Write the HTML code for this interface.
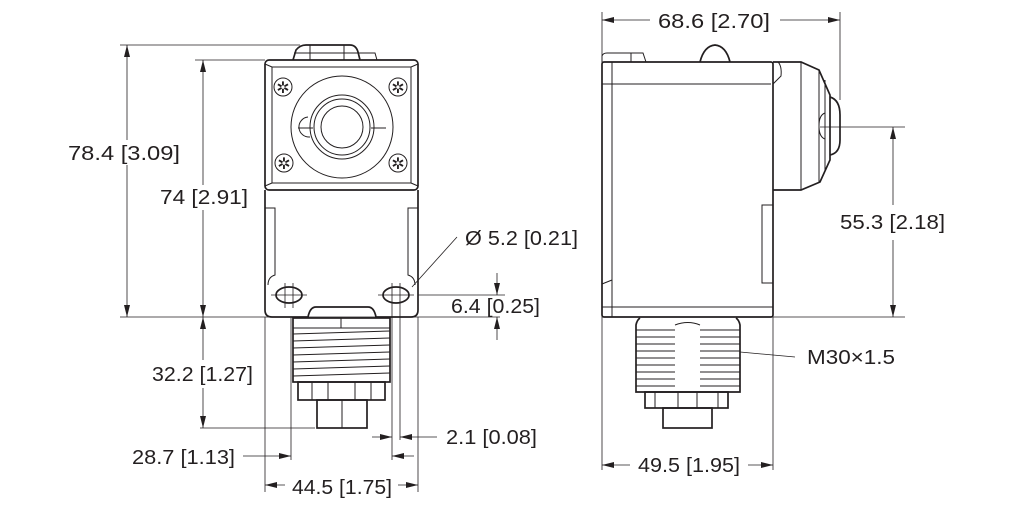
<!DOCTYPE html>
<html><head><meta charset="utf-8"><style>
body{margin:0;background:#fff}
svg{display:block}
text{font-family:"Liberation Sans",sans-serif;font-size:20px;fill:#231f20}
.t{stroke:#231f20;stroke-width:0.8;fill:none}
.b{stroke:#231f20;stroke-width:1.7;fill:none}
.m{stroke:#231f20;stroke-width:1;fill:none}
</style></head><body>
<svg width="1022" height="511" viewBox="0 0 1022 511">
<defs>
<marker id="a" viewBox="0 0 12 6" refX="12" refY="3" markerWidth="12" markerHeight="6" orient="auto-start-reverse" markerUnits="userSpaceOnUse">
<path d="M0,0 L12,3 L0,6 Z" fill="#231f20"/></marker>
</defs>

<!-- LEFT VIEW -->
<path class="b" d="M293,60 L296,50 Q300,45 306,45 L350,45 Q356,45 358,52 L360,60"/>
<path class="m" d="M310,45 V60 M344,45 V60 M294,53 H360"/>
<path class="m" d="M358,53 H375 L377,60"/>
<rect class="b" x="265" y="60" width="153" height="130" rx="4"/>
<rect class="m" x="272" y="67" width="139" height="116"/>
<path class="m" d="M265,64 L272,67 M418,64 L411,67 M265,186 L272,183 M418,186 L411,183"/>
<circle class="m" cx="342" cy="127" r="51"/>
<circle class="m" cx="342" cy="127" r="32"/>
<circle class="m" cx="342" cy="127" r="28"/>
<circle class="m" cx="342" cy="127" r="21"/>
<path class="m" d="M298,128 H313 M371,128 H386"/>
<path class="m" d="M308,117 A8,8 0 1,0 310,137"/>
<g class="m">
<circle cx="283" cy="87" r="9"/><circle cx="398" cy="87" r="9"/>
<circle cx="284" cy="163" r="9"/><circle cx="398" cy="163" r="9"/>
</g>
<g text-anchor="middle"><text x="283" y="93" style="font-size:16px">✲</text><text x="398" y="93" style="font-size:16px">✲</text><text x="284" y="169" style="font-size:16px">✲</text><text x="398" y="169" style="font-size:16px">✲</text></g>
<path class="b" d="M265,190 V310 Q265,317 272,317 H308 Q310,307 316,307 H368 Q374,307 376,317 H411 Q418,317 418,310 V190"/>
<path class="m" d="M265,208 H275 V275 Q268,277 268,285 M418,208 H408 V275 Q415,277 415,285"/>
<ellipse class="b" cx="289" cy="295" rx="13" ry="8"/>
<ellipse class="b" cx="396" cy="295" rx="13" ry="8"/>
<path class="t" d="M271,295 H307 M378,295 H414 M285,283 V308 M293,283 V308 M392,283 V460 M400,283 V440"/>
<rect class="b" x="293" y="318" width="97" height="64"/>
<path class="m" d="M341,318 V328 M293,328 H390"/>
<g class="m"><path d="M293,334 L390,331 M293,341 L390,338 M293,348 L390,345 M293,355 L390,352 M293,362 L390,359 M293,369 L390,366 M293,376 L390,373"/></g>
<rect class="b" x="298" y="382" width="87" height="18"/>
<path class="m" d="M312,382 V400 M328,382 V400 M355,382 V400 M371,382 V400"/>
<rect class="b" x="317" y="400" width="50" height="28"/>
<path class="m" d="M342,400 V428"/>

<path class="t" d="M120,45 H300 M195,60 H265 M120,317 H500 M200,428 H315"/>
<line class="t" x1="127" y1="140" x2="127" y2="45" marker-end="url(#a)"/>
<line class="t" x1="127" y1="165" x2="127" y2="317" marker-end="url(#a)"/>
<line class="t" x1="203" y1="185" x2="203" y2="60" marker-end="url(#a)"/>
<line class="t" x1="203" y1="210" x2="203" y2="317" marker-end="url(#a)"/>
<line class="t" x1="203" y1="360" x2="203" y2="317" marker-end="url(#a)"/>
<line class="t" x1="203" y1="388" x2="203" y2="428" marker-end="url(#a)"/>
<text x="68" y="160" textLength="112" lengthAdjust="spacingAndGlyphs">78.4 [3.09]</text>
<text x="160" y="204" textLength="88" lengthAdjust="spacingAndGlyphs">74 [2.91]</text>
<text x="152" y="381" textLength="101" lengthAdjust="spacingAndGlyphs">32.2 [1.27]</text>
<path class="t" d="M291,318 V460 M265,317 V492 M418,317 V492"/>
<line class="t" x1="243" y1="456" x2="291" y2="456" marker-end="url(#a)"/>
<line class="t" x1="414" y1="456" x2="392" y2="456" marker-end="url(#a)"/>
<text x="132" y="464" textLength="103" lengthAdjust="spacingAndGlyphs">28.7 [1.13]</text>
<line class="t" x1="372" y1="437" x2="392" y2="437" marker-end="url(#a)"/>
<line class="t" x1="437" y1="437" x2="400" y2="437" marker-end="url(#a)"/>
<text x="446" y="444" textLength="91" lengthAdjust="spacingAndGlyphs">2.1 [0.08]</text>
<line class="t" x1="285" y1="485" x2="265" y2="485" marker-end="url(#a)"/>
<line class="t" x1="398" y1="485" x2="418" y2="485" marker-end="url(#a)"/>
<text x="292" y="494" textLength="100" lengthAdjust="spacingAndGlyphs">44.5 [1.75]</text>
<path class="t" d="M418,295 H505"/>
<line class="t" x1="497" y1="273" x2="497" y2="295" marker-end="url(#a)"/>
<line class="t" x1="497" y1="340" x2="497" y2="317" marker-end="url(#a)"/>
<text x="451" y="313" textLength="89" lengthAdjust="spacingAndGlyphs">6.4 [0.25]</text>
<path class="t" d="M412,287 L457,237"/>
<text x="465" y="245" textLength="113" lengthAdjust="spacingAndGlyphs">Ø 5.2 [0.21]</text>

<!-- RIGHT VIEW -->
<path class="m" d="M602,62 V56 Q603,53 607,53 H643 L646,62 M631,53 V62"/>
<path class="b" d="M700,62 Q704,46 715,45 Q726,46 730,62"/>
<rect class="b" x="602" y="62" width="171" height="255" rx="2"/>
<path class="m" d="M612,62 V317 M602,84 H771 M602,307 H773"/>
<path class="m" d="M773,62 V84 L781,76 Q782,66 778,62"/>
<path class="b" d="M773,62 H801 L819,70 L830,95 V160 L820,182 L801,190 H773"/>
<path class="m" d="M801,62 V190 M819,70 V182 M825,80 V172"/>
<path class="b" d="M830,97 Q840,100 840,115 V140 Q840,153 830,155"/>
<path class="m" d="M825,113 Q819,115 819,126 Q819,137 825,139"/>
<path class="m" d="M762,205 H773 V283 H762 Z M612,280 L602,284"/>
<path class="b" d="M640,318 Q637,320 636,325 V392 H740 V325 Q739,320 736,318"/>
<g class="m">
<path d="M636,330 H675 M636,337 H675 M636,344 H675 M636,351 H675 M636,358 H675 M636,365 H675 M636,372 H675 M636,379 H675 M636,386 H675"/>
<path d="M700,330 H740 M700,337 H740 M700,344 H740 M700,351 H740 M700,358 H740 M700,365 H740 M700,372 H740 M700,379 H740 M700,386 H740"/>
<path d="M675,325 Q688,320 700,325"/>
</g>
<rect class="b" x="645" y="392" width="83" height="16"/>
<path class="m" d="M655,392 V408 M678,392 V408 M697,392 V408 M718,392 V408"/>
<rect class="b" x="663" y="408" width="49" height="20"/>
<path class="t" d="M740,352 L795,357"/>
<text x="807" y="364" textLength="88" lengthAdjust="spacingAndGlyphs">M30×1.5</text>
<path class="t" d="M602,12 V470 M840,12 V100 M773,317 V470 M773,317 H905 M820,127 H905"/>
<line class="t" x1="650" y1="20" x2="602" y2="20" marker-end="url(#a)"/>
<line class="t" x1="780" y1="20" x2="840" y2="20" marker-end="url(#a)"/>
<text x="658" y="28" textLength="112" lengthAdjust="spacingAndGlyphs">68.6 [2.70]</text>
<line class="t" x1="893" y1="205" x2="893" y2="127" marker-end="url(#a)"/>
<line class="t" x1="893" y1="240" x2="893" y2="317" marker-end="url(#a)"/>
<text x="840" y="229" textLength="105" lengthAdjust="spacingAndGlyphs">55.3 [2.18]</text>
<line class="t" x1="630" y1="465" x2="602" y2="465" marker-end="url(#a)"/>
<line class="t" x1="748" y1="465" x2="773" y2="465" marker-end="url(#a)"/>
<text x="638" y="472" textLength="102" lengthAdjust="spacingAndGlyphs">49.5 [1.95]</text>
</svg>
</body></html>
